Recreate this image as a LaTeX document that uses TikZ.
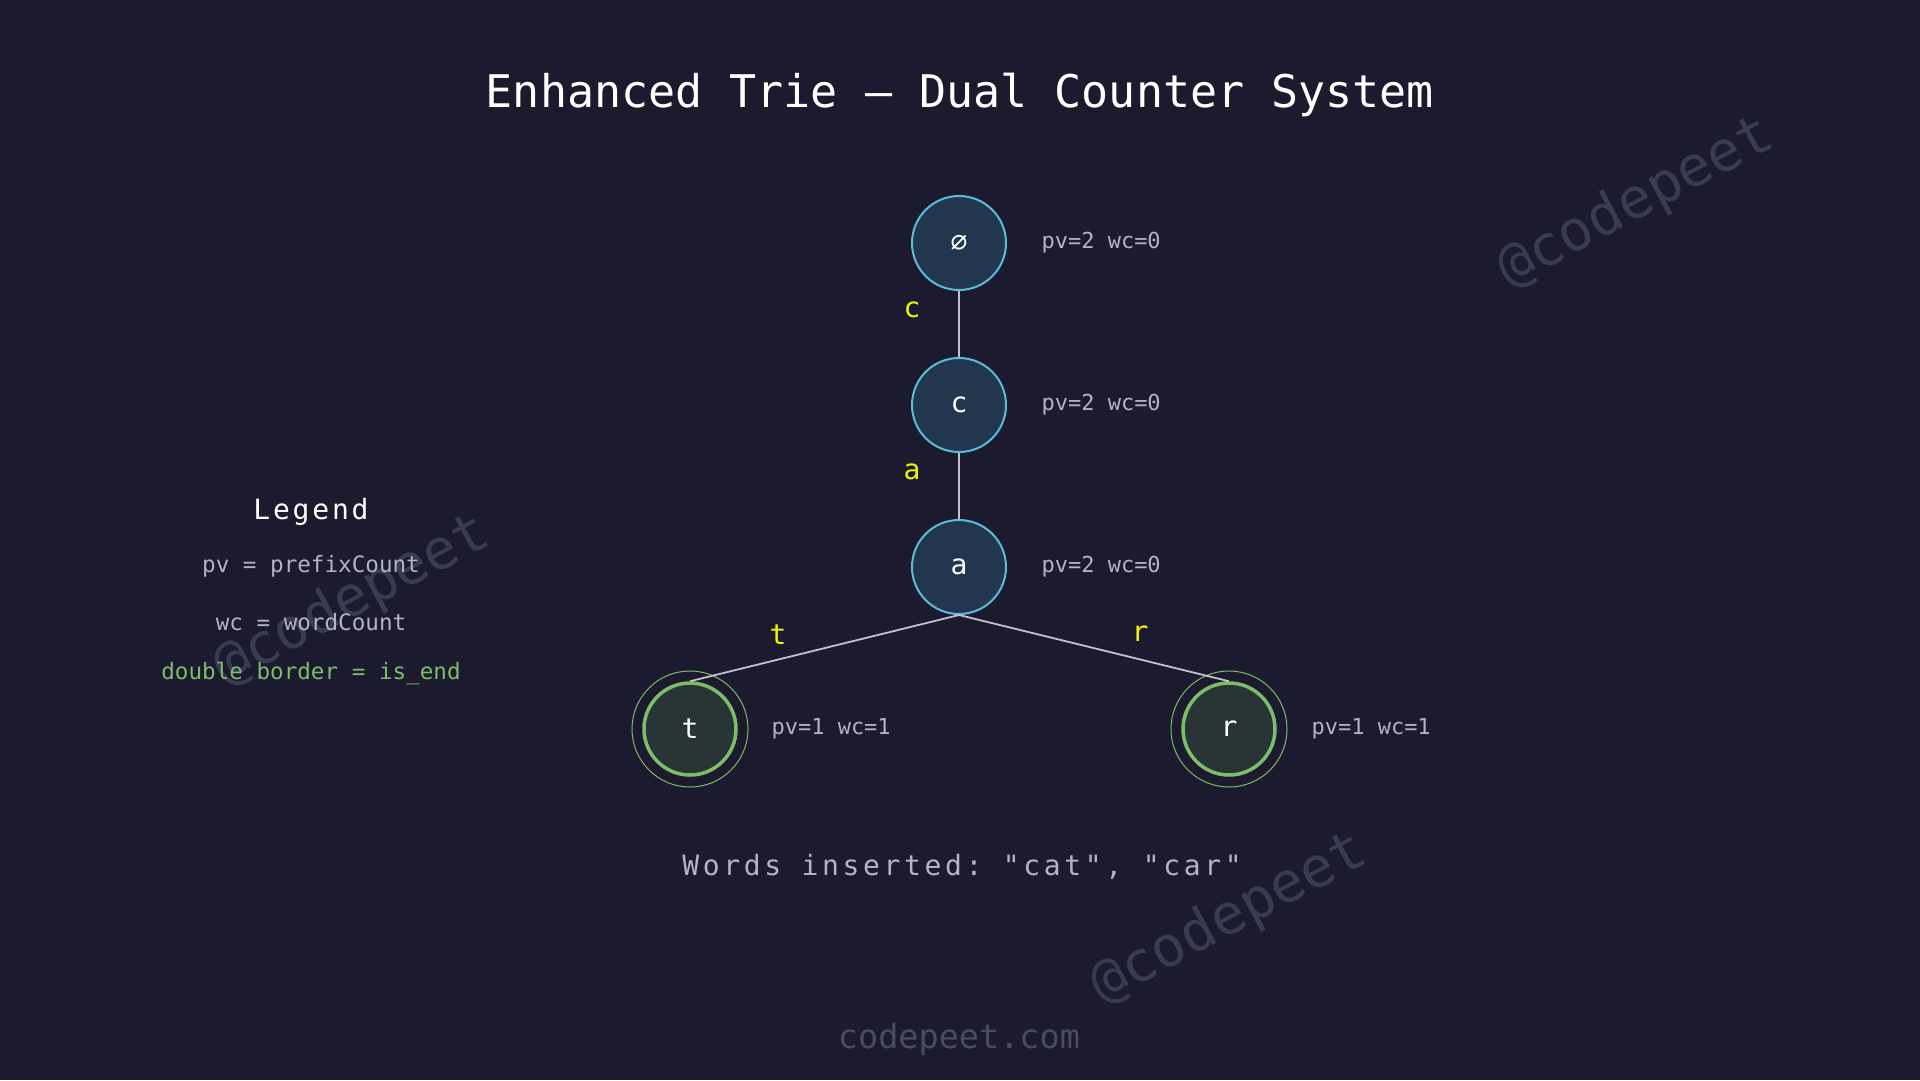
\documentclass[tikz,border=0pt]{standalone}
\usepackage{fontspec}
\setmainfont{DejaVu Sans Mono}
\setmonofont{DejaVu Sans Mono}
\newfontfamily\wmfont{DejaVu Sans Mono}
\definecolor{bg}{HTML}{1B1A2E}
\definecolor{nodefill}{HTML}{233650}
\definecolor{nodeline}{HTML}{5BBCD6}
\definecolor{endfill}{HTML}{283436}
\definecolor{endline}{HTML}{7DBD6A}
\definecolor{edgecol}{HTML}{C2C2CA}
\definecolor{infocol}{HTML}{B4B4BE}
\definecolor{labcol}{HTML}{F2F20A}
\definecolor{wmcol}{HTML}{3A3A52}
\definecolor{sitecol}{HTML}{4A4A62}
\newcommand{\fs}[1]{\fontsize{#1}{#1}\selectfont}
\tikzset{
  trienode/.style={circle, minimum size=94pt, inner sep=0pt, fill=nodefill, draw=nodeline, line width=2pt, text=white, font=\fs{28}},
  endnode/.style={circle, minimum size=92pt, inner sep=0pt, fill=endfill, draw=endline, line width=3.5pt, text=white, font=\fs{28}},
  ringnode/.style={circle, minimum size=116pt, inner sep=0pt, draw=endline, line width=1pt},
  info/.style={anchor=west, text=infocol, font=\fs{22}},
  edgelab/.style={text=labcol, font=\fs{28}},
  edgeline/.style={draw=edgecol, line width=1.8pt},
  watermark/.style={text=wmcol, font=\wmfont\fs{56}, rotate=28},
  legendtext/.style={text=infocol, font=\fs{22.6}}
}
\begin{document}
\begin{tikzpicture}[x=1pt,y=-1pt]
\fill[bg] (0,0) rectangle (1920,1080);
\useasboundingbox (0,0) rectangle (1920,1080);

% watermarks
\node[watermark] (wm1) at (1636,203) {@codepeet};
\node[watermark] (wm2) at (352,601) {@codepeet};
\node[watermark] (wm3) at (1229,919) {@codepeet};

% title
\node[text=white, font=\fs{45}] (title) at (960,95) {Enhanced Trie — Dual Counter System};

% trie nodes
\node[trienode] (root) at (959,243) {∅};
\node[trienode] (c) at (959,405) {c};
\node[trienode] (a) at (959,567) {a};
\node[ringnode] (tring) at (690,729) {};
\node[endnode] (t) at (690,729) {t};
\node[ringnode] (rring) at (1229,729) {};
\node[endnode] (r) at (1229,729) {r};

% edges
\draw[edgeline] (root.south) -- (c.north);
\draw[edgeline] (c.south) -- (a.north);
\draw[edgeline] (a.south) -- (t.north);
\draw[edgeline] (a.south) -- (r.north);

% edge labels
\node[edgelab] (lc) at (912,310) {c};
\node[edgelab] (la) at (912,472) {a};
\node[edgelab] (lt) at (778,635) {t};
\node[edgelab] (lr) at (1140,634) {r};

% counters
\node[info] (iroot) at (1038,243) {pv=2 wc=0};
\node[info] (ic) at (1038,405) {pv=2 wc=0};
\node[info] (ia) at (1038,567) {pv=2 wc=0};
\node[info] (it) at (768,729) {pv=1 wc=1};
\node[info] (ir) at (1308,729) {pv=1 wc=1};

% legend
\node[text=white, font=\fs{28}\addfontfeature{LetterSpace=10}] (leg) at (311,512) {Legend};
\node[legendtext] (leg1) at (311,566) {pv = prefixCount};
\node[legendtext] (leg2) at (311,622) {wc = wordCount};
\node[legendtext, text=endline] (leg3) at (311,674) {double border = is\_end};

% footer
\node[text=infocol, font=\ttfamily\fs{28}\addfontfeature{LetterSpace=13}] (words) at (962,867) {Words inserted: "cat", "car"};
\node[text=sitecol, font=\fs{33.5}] (site) at (959,1039) {codepeet.com};
\end{tikzpicture}
\end{document}
